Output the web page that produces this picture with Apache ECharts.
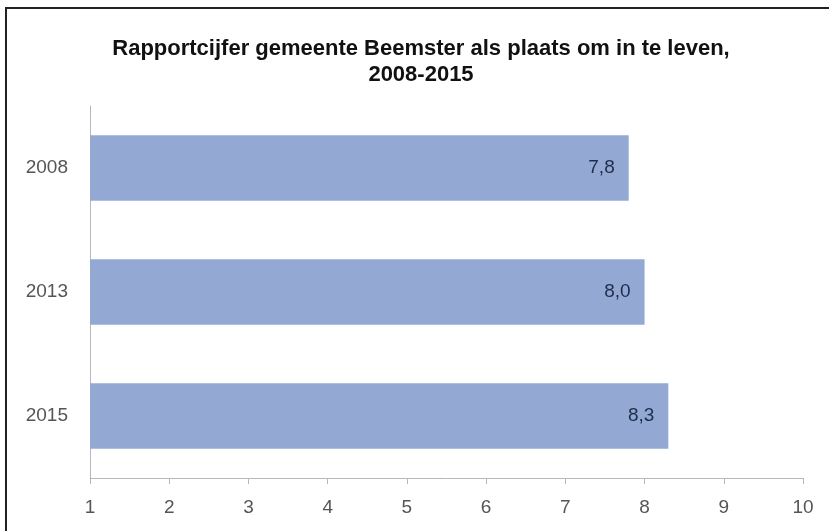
<!DOCTYPE html>
<html>
<head>
<meta charset="utf-8">
<script src="https://cdn.jsdelivr.net/npm/echarts@6/dist/echarts.min.js"></script>
<style>
  html, body { margin: 0; padding: 0; background: #fff; }
  #frame {
    position: absolute; left: 5px; top: 7px; width: 840px; height: 540px;
    border: 2px solid #222; box-sizing: border-box;
  }
  #chart { position: absolute; left: 0; top: 0; width: 829px; height: 531px; }
</style>
</head>
<body>
<div id="frame"></div>
<div id="chart"></div>
<script>
  // jaren en rapportcijfers
  const years = ["2008", "2013", "2015"];
  const scores = [7.8, 8.0, 8.3];
  const ticks = [1, 2, 3, 4, 5, 6, 7, 8, 9, 10];

  const chart = echarts.init(document.getElementById("chart"));

  chart.setOption({
    backgroundColor: "transparent",
    animation: false,
    title: {
      text: "Rapportcijfer gemeente Beemster als plaats om in te leven,\n2008-2015",
      left: 416,
      top: 31,
      textAlign: "center",
      textStyle: {
        fontFamily: "Liberation Sans",
        fontWeight: "bold",
        fontSize: 22,
        lineHeight: 26,
        color: "#111",
      },
    },
    grid: {
      left: 90,
      right: 26,
      top: 106,
      bottom: 53,
      containLabel: false,
    },
    xAxis: {
      type: "value",
      min: ticks[0],
      max: ticks[ticks.length - 1],
      interval: 1,
      splitLine: { show: false },
      axisLine: { show: true, lineStyle: { color: "#b8b8b8", width: 1 } },
      axisTick: { show: true, length: 6, lineStyle: { color: "#b8b8b8" } },
      axisLabel: {
        margin: 20,
        fontFamily: "Liberation Sans",
        fontSize: 19,
        color: "#555",
        formatter: (v) => String(v),
      },
    },
    yAxis: {
      type: "category",
      data: years,
      inverse: true,
      axisLine: { show: true, lineStyle: { color: "#b8b8b8", width: 1 } },
      axisTick: { show: false },
      axisLabel: {
        margin: 22,
        fontFamily: "Liberation Sans",
        fontSize: 19,
        color: "#555",
      },
    },
    series: [
      {
        type: "bar",
        data: scores,
        barWidth: "53%",
        itemStyle: { color: "#93a9d3" },
        label: {
          show: true,
          position: "insideRight",
          distance: 14,
          fontFamily: "Liberation Sans",
          fontSize: 19,
          color: "#1f2d4a",
          formatter: (p) => p.value.toFixed(1).replace(".", ","),
        },
      },
    ],
  });
</script>
</body>
</html>
